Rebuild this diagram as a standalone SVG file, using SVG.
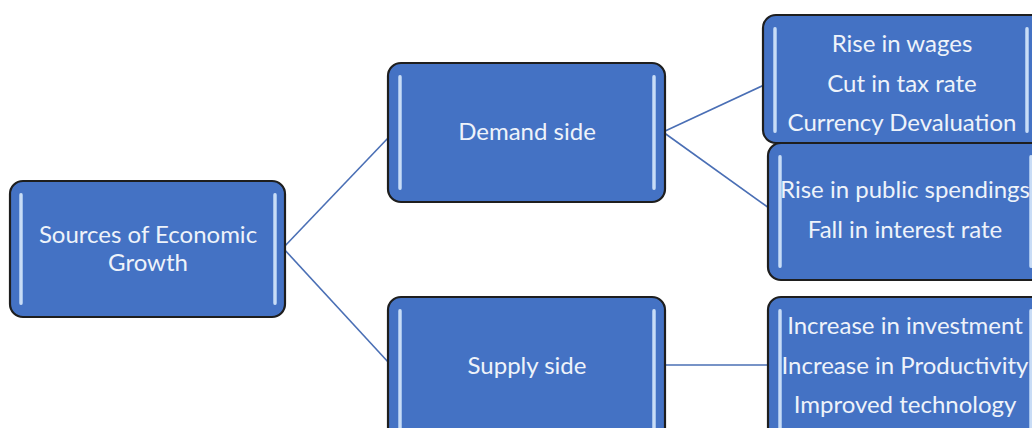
<svg xmlns="http://www.w3.org/2000/svg" width="1032" height="428" viewBox="0 0 1032 428">
<defs>
<linearGradient id="barg" x1="0" y1="0" x2="1" y2="0">
<stop offset="0" stop-color="#8FB3E6"/>
<stop offset="0.5" stop-color="#DCEAFB"/>
<stop offset="1" stop-color="#8FB3E6"/>
</linearGradient>
<style>
.box{fill:#4472C4;stroke:#1E1E1E;stroke-width:2.2}
.bar{fill:url(#barg)}
.t{font-family:Lato,"Open Sans","Liberation Sans",sans-serif;font-size:24px;fill:#EEF3FA;text-anchor:middle}
.c{stroke:#4A6FB5;stroke-width:1.6;fill:none}
</style>
</defs>
<rect width="1032" height="428" fill="#FFFFFF"/>
<g id="connectors">
<line class="c" x1="283" y1="248" x2="389" y2="137"/>
<line class="c" x1="283" y1="248" x2="389" y2="363"/>
<line class="c" x1="663" y1="132" x2="764" y2="85"/>
<line class="c" x1="663" y1="132" x2="769" y2="208"/>
<line class="c" x1="663" y1="365" x2="769" y2="365"/>
</g>
<g id="root">
<rect class="box" x="10" y="181" width="275" height="136" rx="13"/>
<rect class="bar" x="19" y="193" width="4" height="112" rx="2"/>
<rect class="bar" x="273" y="193" width="4" height="112" rx="2"/>
<text class="t" x="148" y="243">Sources of Economic</text>
<text class="t" x="148" y="271">Growth</text>
</g>
<g id="demand">
<rect class="box" x="388" y="63" width="277" height="139" rx="13"/>
<rect class="bar" x="398" y="75" width="4" height="115" rx="2"/>
<rect class="bar" x="652" y="75" width="4" height="115" rx="2"/>
<text class="t" x="527" y="140">Demand side</text>
</g>
<g id="supply">
<rect class="box" x="388" y="297" width="277" height="145" rx="13"/>
<rect class="bar" x="398" y="309" width="4" height="125" rx="2"/>
<rect class="bar" x="652" y="309" width="4" height="125" rx="2"/>
<text class="t" x="527" y="374">Supply side</text>
</g>
<g id="demand-items-1">
<rect class="box" x="763" y="15" width="285" height="128" rx="13"/>
<rect class="bar" x="773" y="27" width="4" height="106" rx="2"/>
<rect class="bar" x="1025" y="27" width="4" height="106" rx="2"/>
<text class="t" x="902" y="52">Rise in wages</text>
<text class="t" x="902" y="92">Cut in tax rate</text>
<text class="t" x="902" y="131">Currency Devaluation</text>
</g>
<g id="demand-items-2">
<rect class="box" x="768" y="143" width="285" height="137" rx="13"/>
<rect class="bar" x="778" y="155" width="4" height="113" rx="2"/>
<rect class="bar" x="1029" y="155" width="4" height="113" rx="2"/>
<text class="t" x="905" y="198">Rise in public spendings</text>
<text class="t" x="905" y="238">Fall in interest rate</text>
</g>
<g id="supply-items">
<rect class="box" x="768" y="297" width="285" height="145" rx="13"/>
<rect class="bar" x="778" y="309" width="4" height="125" rx="2"/>
<rect class="bar" x="1029" y="309" width="4" height="125" rx="2"/>
<text class="t" x="905" y="334">Increase in investment</text>
<text class="t" x="905" y="374">Increase in Productivity</text>
<text class="t" x="905" y="413">Improved technology</text>
</g>
</svg>
